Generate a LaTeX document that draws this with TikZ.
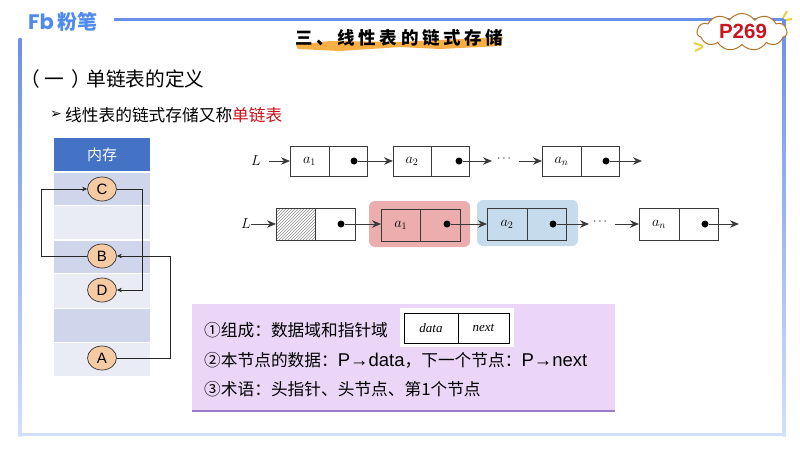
\documentclass[tikz,border=0pt]{standalone}
\usepackage{fontspec}
\usepackage{amsmath}
\setmainfont{Noto Sans CJK SC}
\newfontfamily\latfont{Liberation Sans}
\newfontfamily\serfont{Liberation Serif}
\newfontfamily\symfont{DejaVu Sans}
\newfontfamily\logofont{Poppins}
\newfontfamily\titlefont[LetterSpace=21]{Noto Sans CJK SC}
\usetikzlibrary{arrows.meta,patterns,shapes.symbols,shapes.geometric}
\definecolor{framecol}{HTML}{6A8FE8}
\definecolor{fadecol}{HTML}{D3E0FB}
\definecolor{logocol}{HTML}{4F8AEC}
\definecolor{headcol}{HTML}{4472C4}
\definecolor{rowdark}{HTML}{CFD5EA}
\definecolor{rowlight}{HTML}{E9EBF5}
\definecolor{ballcol}{HTML}{F6CBA4}
\definecolor{boxline}{HTML}{3A3A3A}
\definecolor{redbg}{HTML}{EBADAD}
\definecolor{bluebg}{HTML}{C6DBEC}
\definecolor{notebg}{HTML}{ECD6F8}
\definecolor{noteedge}{HTML}{9A7BCB}
\definecolor{brushcol}{HTML}{F6AE45}
\definecolor{redtext}{HTML}{C9151E}
\definecolor{cloudedge}{HTML}{B8752A}
\definecolor{sparkcol}{HTML}{E6D23C}
\tikzset{
  memrow/.style={minimum width=96pt,inner sep=0pt,outer sep=0pt},
  ball/.style={ellipse,draw=black!80,fill=ballcol,line width=0.7pt,minimum width=29pt,minimum height=24pt,inner sep=0pt,font=\latfont\fontsize{15}{15}\selectfont},
  cell/.style={draw=boxline,line width=0.9pt,minimum height=30pt,inner sep=0pt,outer sep=0pt,font=\fontsize{14}{14}\selectfont},
  ptr/.style={circle,fill=black,minimum size=7pt,inner sep=0pt},
  link/.style={draw=boxline,line width=0.8pt,-{Stealth[length=9pt,width=7.5pt]}},
  wire/.style={draw=black!85,line width=1pt,-{Stealth[length=5pt,width=4.5pt]}},
  bodytext/.style={anchor=west,inner sep=0pt,font=\fontsize{16.7}{17}\selectfont},
  listlabel/.style={inner sep=0pt,font=\fontsize{14}{14}\selectfont},
  dotslabel/.style={inner sep=0pt,font=\fontsize{12}{12}\selectfont}
}
\begin{document}
\begin{tikzpicture}[x=1pt,y=1pt]
\useasboundingbox (0,0) rectangle (800,-450);
\fill [white] (0,0) rectangle (800,-450);
\draw [framecol,line width=3pt] (114,-19) -- (784,-19);
\shade [top color=framecol,bottom color=fadecol] (782.5,-19) rectangle (785.5,-436);
\shade [top color=framecol,bottom color=fadecol] (18.5,-38) rectangle (21.5,-436);
\fill [fadecol] (18.5,-433) rectangle (785.5,-436);

\node [anchor=west,inner sep=0pt,text=logocol,font=\logofont\bfseries\fontsize{21}{21}\selectfont] (logofb) at (28,-22) {Fb};
\node [anchor=west,inner sep=0pt,text=logocol,font=\bfseries\fontsize{20}{20}\selectfont] (logoname) at (57,-22) {粉笔};

\fill [brushcol] (296,-45) -- (330,-41) -- (400,-42) -- (460,-39) -- (503,-37) -- (500,-46) -- (440,-49) -- (400,-47) -- (340,-51) -- (298,-49) -- cycle;
\node [anchor=west,inner sep=0pt,font=\titlefont\bfseries\fontsize{17.5}{17.5}\selectfont] (title) at (295,-38) {三、线性表的链式存储};

\node [cloud,cloud puffs=11,cloud puff arc=110,aspect=2.6,draw=cloudedge,fill=white,line width=1pt,minimum width=90pt,minimum height=37pt,inner sep=0pt] (cloudp) at (742,-32) {};
\node [text=redtext,inner sep=0pt,font=\latfont\bfseries\fontsize{20.5}{20.5}\selectfont] (pagenum) at (743,-31) {P269};
\draw [sparkcol,line width=2pt] (783,-18) -- (787,-11) (786,-20) -- (792,-19);
\draw [sparkcol,line width=2pt] (703,-46) -- (694,-43) (703,-47) -- (695,-51);

\node [bodytext,font=\fontsize{19.7}{20}\selectfont] (heading) at (20,-79) {（\hspace{5pt}一\hspace{7pt}）\hspace{-5pt}单链表的定义};
\node [anchor=west,inner sep=0pt,font=\symfont\fontsize{14}{14}\selectfont] (bullet) at (50,-115) {➢};
\node [bodytext] (subhead) at (65,-115) {线性表的链式存储又称\textcolor{redtext}{单链表}};

\node [memrow,minimum height=33pt,fill=headcol,text=white,font=\fontsize{15}{15}\selectfont] (memhead) at (102,-154.5) {内存};
\node [memrow,minimum height=32pt,fill=rowdark] (row1) at (102,-189) {};
\node [memrow,minimum height=33pt,fill=rowlight] (row2) at (102,-222.5) {};
\node [memrow,minimum height=32pt,fill=rowdark] (row3) at (102,-257) {};
\node [memrow,minimum height=34pt,fill=rowlight] (row4) at (102,-291) {};
\node [memrow,minimum height=33pt,fill=rowdark] (row5) at (102,-325.5) {};
\node [memrow,minimum height=33pt,fill=rowlight] (row6) at (102,-359.5) {};
\node [ball] (C) at (102,-189) {C};
\node [ball] (B) at (102,-256) {B};
\node [ball] (D) at (102,-290) {D};
\node [ball] (A) at (102,-358) {A};
\draw [wire] (B.west) -- (41,-256) -- (41,-189) -- (C.west);
\draw [wire] (C.east) -- (142,-189) -- (142,-290) -- (D.east);
\draw [wire] (A.east) -- (170,-358) -- (170,-256) -- (B.east);

\node [listlabel] (La) at (256,-161) {$L$};
\node [cell,minimum width=39pt] (a1) at (309.5,-161) {$a_1$};
\node [cell,minimum width=38pt] (a1n) at (348,-161) {};
\node [ptr] (a1p) at (354,-161) {};
\node [cell,minimum width=38pt] (a2) at (412,-161) {$a_2$};
\node [cell,minimum width=38pt] (a2n) at (450,-161) {};
\node [ptr] (a2p) at (459,-161) {};
\coordinate (a2e) at (492,-161);
\node [dotslabel] (dotsa) at (505,-159) {$\cdots$};
\coordinate (ans) at (519,-161);
\node [cell,minimum width=39pt] (an) at (561.5,-161) {$a_n$};
\node [cell,minimum width=38pt] (ann) at (600,-161) {};
\node [ptr] (anp) at (606,-161) {};
\coordinate (ane) at (642,-161);
\draw [link] (La.east) ++(8,0) -- (a1);
\draw [link] (a1p) -- (a2);
\draw [link] (a2p) -- (a2e);
\draw [link] (ans) -- (an);
\draw [link] (anp) -- (ane);

\node [fill=redbg,rounded corners=6pt,minimum width=101pt,minimum height=46pt,inner sep=0pt] (redarea) at (419.5,-224) {};
\node [fill=bluebg,rounded corners=6pt,minimum width=101pt,minimum height=46pt,inner sep=0pt] (bluearea) at (527.5,-223) {};
\node [listlabel] (Lb) at (246,-224) {$L$};
\node [cell,minimum width=39pt,minimum height=32pt,pattern=north east lines,pattern color=black!45] (hd) at (295.5,-224) {};
\node [cell,minimum width=40pt,minimum height=32pt] (hdn) at (335,-224) {};
\node [ptr] (hdp) at (341,-224) {};
\node [cell,minimum width=39.5pt,minimum height=32pt] (b1) at (400.75,-225) {$a_1$};
\node [cell,minimum width=39.5pt,minimum height=32pt] (b1n) at (440.25,-225) {};
\node [ptr] (b1p) at (447,-224) {};
\node [cell,minimum width=40pt,minimum height=32pt] (b2) at (507,-224) {$a_2$};
\node [cell,minimum width=39pt,minimum height=32pt] (b2n) at (546.5,-224) {};
\node [ptr] (b2p) at (553,-224) {};
\coordinate (b2e) at (589,-224);
\node [dotslabel] (dotsb) at (601,-222) {$\cdots$};
\coordinate (bns) at (615,-224);
\node [cell,minimum width=40pt,minimum height=32pt] (bn) at (659,-224) {$a_n$};
\node [cell,minimum width=39pt,minimum height=32pt] (bnn) at (698.5,-224) {};
\node [ptr] (bnp) at (705,-224) {};
\coordinate (bne) at (739,-224);
\draw [link] (Lb) -- (hd);
\draw [link] (hdp) -- (b1.west |- hdp);
\draw [link] (b1p) -- (b2.west |- b1p);
\draw [link] (b2p) -- (b2e);
\draw [link] (bns) -- (bn);
\draw [link] (bnp) -- (bne);

\node [fill=notebg,minimum width=423pt,minimum height=107pt,inner sep=0pt] (note) at (403.5,-357.5) {};
\draw [noteedge,line width=1.5pt] (note.south west) -- (note.south east);
\node [fill=white,minimum width=114pt,minimum height=39pt,inner sep=0pt] (fieldbg) at (457,-327.5) {};
\node [cell,draw=black,minimum width=54pt,font=\serfont\itshape\fontsize{13}{13}\selectfont] (fdata) at (431,-328) {data};
\node [cell,draw=black,minimum width=51pt,font=\serfont\itshape\fontsize{13}{13}\selectfont] (fnext) at (483.5,-328) {next};
\node [bodytext] (noteone) at (204,-330) {①组成：数据域和指针域};
\node [bodytext] (notetwo) at (204,-360) {②本节点的数据：{\latfont\fontsize{18.5}{18}\selectfont P→data}，下一个节点：{\latfont\fontsize{18.5}{18}\selectfont P→next}};
\node [bodytext] (notethree) at (204,-389) {③术语：头指针、头节点、第1个节点};
\end{tikzpicture}
\end{document}
